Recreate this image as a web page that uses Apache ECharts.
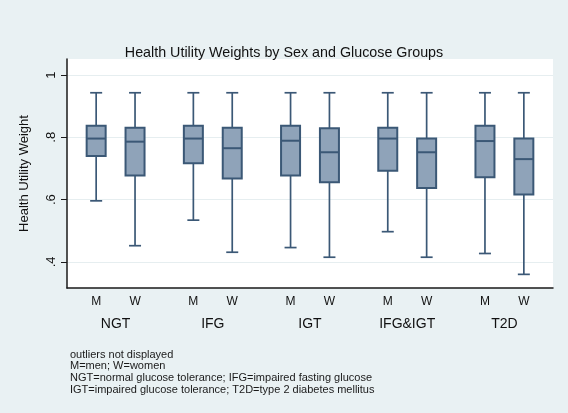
<!DOCTYPE html>
<html><head><meta charset="utf-8">
<script src="https://cdn.jsdelivr.net/npm/echarts@6/dist/echarts.min.js"></script>
<style>html,body{margin:0;padding:0;background:#e9f1f3}#c{width:568px;height:413px}</style>
</head><body><div id="c"></div>
<script>
// ---- data ----
const groups = ['NGT', 'IFG', 'IGT', 'IFG&IGT', 'T2D'];
const sexes = ['M', 'W'];
// order: NGT M, NGT W, IFG M, IFG W, IGT M, IGT W, IFG&IGT M, IFG&IGT W, T2D M, T2D W
const whiskerLow  = [0.596, 0.452, 0.534, 0.431, 0.446, 0.415, 0.497, 0.415, 0.427, 0.360];
const q1          = [0.740, 0.677, 0.717, 0.668, 0.677, 0.656, 0.693, 0.637, 0.672, 0.616];
const median      = [0.796, 0.786, 0.796, 0.765, 0.789, 0.752, 0.796, 0.752, 0.788, 0.730];
const q3          = [0.837, 0.831, 0.837, 0.831, 0.837, 0.829, 0.831, 0.796, 0.837, 0.796];
const whiskerHigh = [0.943, 0.943, 0.943, 0.943, 0.943, 0.943, 0.943, 0.943, 0.943, 0.943];
const yTicks = [0.4, 0.6, 0.8, 1];
const titleText = 'Health Utility Weights by Sex and Glucose Groups';
const yName = 'Health Utility Weight';
const notes = [
  'outliers not displayed',
  'M=men; W=women',
  'NGT=normal glucose tolerance; IFG=impaired fasting glucose',
  'IGT=impaired glucose tolerance; T2D=type 2 diabetes mellitus'
];

// ---- build slots (5 per group: gap, M, gap, W, gap) ----
const slots = [];
for (let g = 0; g < groups.length; g++) {
  slots.push('gap' + g + 'a', groups[g] + '|M', 'gap' + g + 'b', groups[g] + '|W', 'gap' + g + 'c');
}
const boxData = [];
groups.forEach((g, gi) => sexes.forEach((s, si) => {
  const i = gi * 2 + si;
  boxData.push([g + '|' + s, whiskerLow[i], q1[i], median[i], q3[i], whiskerHigh[i]]);
}));

const stroke = '#3b5876';
const fill = '#8fa3b9';

const chart = echarts.init(document.getElementById('c'), null, {renderer: 'canvas'});
chart.setOption({
  backgroundColor: '#e9f1f3',
  animation: false,
  textStyle: {fontFamily: 'Liberation Sans, Arial, sans-serif'},
  title: {
    text: titleText, left: 'center', top: 41,
    textStyle: {fontSize: 14.3, fontWeight: 'normal', color: '#111', fontFamily: 'Liberation Sans, Arial, sans-serif'}
  },
  grid: {left: 67, right: 15, top: 59, bottom: 125, show: true, backgroundColor: '#ffffff', borderWidth: 0},
  xAxis: [{
    type: 'category', data: slots, boundaryGap: true,
    axisLine: {show: true, lineStyle: {color: '#1a1a1a', width: 1.5}},
    axisTick: {show: false},
    axisLabel: {
      interval: 0, margin: 8, fontSize: 12, color: '#111',
      formatter: v => v.indexOf('|') >= 0 ? v.split('|')[1] : ''
    },
    splitLine: {show: false}
  }, {
    type: 'category', data: groups, position: 'bottom', offset: 21,
    axisLine: {show: false}, axisTick: {show: false},
    axisLabel: {interval: 0, margin: 8, fontSize: 14, color: '#111'},
    splitLine: {show: false}
  }],
  yAxis: {
    type: 'value', min: 0.3162, max: 1.0514,
    name: yName, nameLocation: 'middle', nameRotate: 90, nameGap: 36,
    nameTextStyle: {fontSize: 13, color: '#111'},
    axisLine: {show: true, lineStyle: {color: '#1a1a1a', width: 1.5}},
    axisTick: {show: true, length: 6, lineStyle: {color: '#1a1a1a'}, customValues: yTicks},
    axisLabel: {
      rotate: 90, fontSize: 13, color: '#111', margin: 9, customValues: yTicks,
      formatter: v => (Math.abs(v - 1) < 1e-9 ? '1' : String(Math.round(v * 10) / 10).replace(/^0/, ''))
    },
    splitLine: {show: true, lineStyle: {color: '#e6eef0', width: 1}}
  },
  series: [{
    type: 'custom',
    xAxisIndex: 0,
    encode: {x: 0, y: [1, 2, 3, 4, 5]},
    data: boxData,
    renderItem: function (params, api) {
      const x = api.value(0);
      const pLo = api.coord([x, api.value(1)]);
      const pQ1 = api.coord([x, api.value(2)]);
      const pMed = api.coord([x, api.value(3)]);
      const pQ3 = api.coord([x, api.value(4)]);
      const pHi = api.coord([x, api.value(5)]);
      const bw = 19, cw = 12;
      const cx = pMed[0];
      return {
        type: 'group',
        children: [
          {type: 'line', shape: {x1: cx, y1: pHi[1], x2: cx, y2: pLo[1]}, style: {stroke: stroke, lineWidth: 1.7}},
          {type: 'line', shape: {x1: cx - cw / 2, y1: pHi[1], x2: cx + cw / 2, y2: pHi[1]}, style: {stroke: stroke, lineWidth: 1.7}},
          {type: 'line', shape: {x1: cx - cw / 2, y1: pLo[1], x2: cx + cw / 2, y2: pLo[1]}, style: {stroke: stroke, lineWidth: 1.7}},
          {type: 'rect', shape: {x: cx - bw / 2, y: pQ3[1], width: bw, height: pQ1[1] - pQ3[1]}, style: {fill: fill, stroke: stroke, lineWidth: 2}},
          {type: 'line', shape: {x1: cx - bw / 2, y1: pMed[1], x2: cx + bw / 2, y2: pMed[1]}, style: {stroke: stroke, lineWidth: 2}}
        ]
      };
    }
  }],
  graphic: notes.map((t, i) => ({
    type: 'text', left: 70, top: 349 + i * 11.7,
    style: {text: t, fontSize: 11, fill: '#1a1a1a', font: '11px "Liberation Sans", Arial, sans-serif'}
  }))
});
</script>
</body></html>
